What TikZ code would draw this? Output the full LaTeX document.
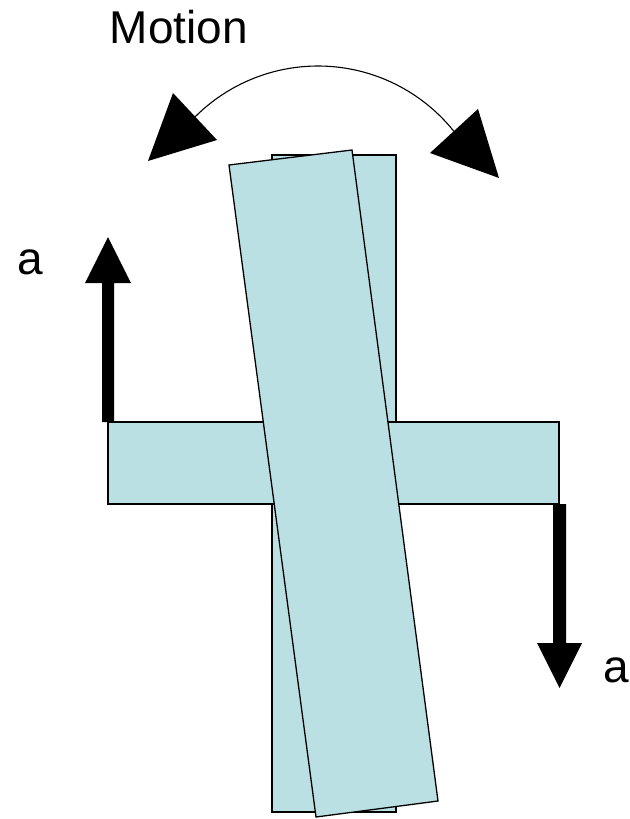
\documentclass[tikz,border=0pt]{standalone}
\usepackage{fontspec}
\setmainfont{Liberation Sans}
\definecolor{barfill}{HTML}{BBE0E3}
\tikzset{
  bar/.style={fill=barfill, draw=black, line width=1.3pt, line join=miter},
  solidarrow/.style={fill=black, draw=none},
  lbl/.style={anchor=base, inner sep=0pt, font=\fontsize{46}{46}\selectfont}
}
\begin{document}
\begin{tikzpicture}[x=1pt,y=-1pt]
\useasboundingbox (0,0) rectangle (629,819);
% straight vertical bar
\draw[bar] (272,155) rectangle (396,812);
% horizontal bar
\draw[bar] (108,422) rectangle (559,504);
% tilted vertical bar
\draw[bar] (229,165) -- (352,150) -- (438,801) -- (316,817) -- cycle;
% left force arrow
\fill[solidarrow] (102,422) -- (102,283) -- (85,283) -- (108,237) -- (131,283) -- (114,283) -- (114,422) -- cycle;
% right force arrow
\fill[solidarrow] (553,504) -- (553,643) -- (537,643) -- (559.5,688) -- (582,643) -- (566,643) -- (566,504) -- cycle;
% motion arc
\coordinate (c) at (318,240);
\draw[line width=1.1pt] ([shift={(225:174)}]c) arc[start angle=225, end angle=321.3, radius=174];
\fill[solidarrow] (173,93) -- (148,161) -- (217,140) -- cycle;
\fill[solidarrow] (478,109) -- (430,153) -- (499,178) -- cycle;
% labels
\node[lbl] (motion) at (179,43) {Motion};
\node[lbl] (aleft) at (30,274) {a};
\node[lbl] (aright) at (616,682) {a};
\end{tikzpicture}
\end{document}
